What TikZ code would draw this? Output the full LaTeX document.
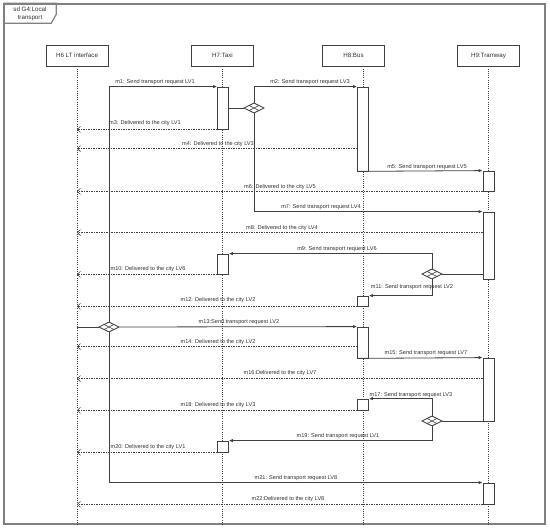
\documentclass[tikz,border=0pt]{standalone}
\usepackage{fontspec}
\setmainfont{Liberation Sans}
\usetikzlibrary{shapes.geometric,arrows.meta,calc}
\definecolor{ln}{HTML}{404040}
\definecolor{fr}{HTML}{808080}
\definecolor{tx}{HTML}{303030}
\begin{document}
\begin{tikzpicture}[x=1pt,y=-1pt,
 head/.style={draw=ln, line width=0.8pt, minimum width=62pt, minimum height=21pt, inner sep=0, font=\fontsize{6.2}{7}\selectfont, text=tx},
 act/.style={draw=ln, line width=0.8pt, fill=white, minimum width=11pt, inner sep=0},
 lifeline/.style={draw=ln, line width=0.6pt, dash pattern=on 1pt off 1.2pt},
 fork/.style={diamond, draw=ln, line width=0.7pt, fill=white, minimum width=20pt, minimum height=10pt, inner sep=0},
 msg/.style={draw=ln, line width=0.8pt, -{Latex[length=4pt,width=3.5pt]}},
 ret/.style={draw=ln, line width=0.6pt, dash pattern=on 1.5pt off 1pt, -{Straight Barb[length=3pt,width=6pt]}},
 lbl/.style={font=\fontsize{5.6}{6.5}\selectfont, text=tx, inner sep=0},
]
\useasboundingbox (0,0) rectangle (550,529);
% frame
\node[draw=fr, line width=1.5pt, minimum width=541pt, minimum height=520pt, inner sep=0] (frame) at (274.5,264) {};
\draw[draw=fr, line width=1.2pt] (frame.north west) -- ++(53,0) -- ++(0,11) -- ++(-5,9) -- ++(-48,0);
\node[lbl, font=\fontsize{6.2}{7.5}\selectfont, align=center] (title) at (30,14) {sd G4:Local\\transport};
% heads
\node[head] (h6) at (77,55.5) {H6 LT interface};
\node[head] (h7) at (222.5,55.5) {H7:Taxi};
\node[head] (h8) at (353.5,55.5) {H8:Bus};
\node[head] (h9) at (488.5,55.5) {H9:Tramway};
\coordinate (l8) at ([xshift=9.5pt]h8.south);
% lifelines
\draw[lifeline] (h6.south) -- (h6.south |- frame.south);
\draw[lifeline] (h7.south) -- (h7.south |- frame.south);
\draw[lifeline] (l8) -- (l8 |- frame.south);
\draw[lifeline] (h9.south) -- (h9.south |- frame.south);
% activations
\node[act, minimum height=42pt] (t1) at (223,108) {};
\node[act, minimum height=84pt] (b1) at (363,129) {};
\node[act, minimum height=20pt] (r1) at (488.5,181) {};
\node[act, minimum height=67pt] (r2) at (488.5,245.5) {};
\node[act, minimum height=20pt] (t2) at (223,264) {};
\node[act, minimum height=10pt] (b2) at (363,301) {};
\node[act, minimum height=31pt] (b3) at (363,342.5) {};
\node[act, minimum height=63pt] (r3) at (488.5,389.5) {};
\node[act, minimum height=11pt] (b4) at (363,404.5) {};
\node[act, minimum height=11pt] (t3) at (223,446.5) {};
\node[act, minimum height=21pt] (r4) at (488.5,493.5) {};
% forks
\node[fork] (d1) at (254,108) {};
\node[fork] (d2) at (432,274) {};
\node[fork] (d3) at (109,327) {};
\node[fork] (d4) at (432,421) {};
% messages
\draw[msg] (d3.north) |- (t1.north west);
\draw[msg] (d3.south) |- (r4.north west);
\draw[draw=ln, line width=0.8pt] (h6.south |- d3.west) -- (d3.west);
\draw[msg] (d3.east) -- (b3.north west);
\draw[draw=ln, line width=0.8pt] (t1.east |- d1.west) -- (d1.west);
\draw[msg] (d1.north) |- (b1.north west);
\draw[msg] (d1.south) |- (r2.north west);
\draw[ret] (t1.south west) -- (t1.south west -| h6.south);
\draw[ret] ([yshift=-62pt]b1.north west) -- ([yshift=-62pt]b1.north west -| h6.south);
\draw[msg] (b1.south west) -- (r1.north west);
\draw[ret] (r1.south west) -- (r1.south west -| h6.south);
\draw[ret] ([yshift=-21pt]r2.north west) -- ([yshift=-21pt]r2.north west -| h6.south);
\draw[draw=ln, line width=0.8pt] (d2.east) -- (d2.east -| r2.west);
\draw[msg] (d2.north) |- (t2.north east);
\draw[ret] (t2.south west) -- (t2.south west -| h6.south);
\draw[msg] (d2.south) |- (b2.north east);
\draw[ret] (b2.south west) -- (b2.south west -| h6.south);
\draw[ret] ([yshift=-20pt]b3.north west) -- ([yshift=-20pt]b3.north west -| h6.south);
\draw[msg] (b3.south west) -- (r3.north west);
\draw[ret] ([yshift=-21pt]r3.north west) -- ([yshift=-21pt]r3.north west -| h6.south);
\draw[draw=ln, line width=0.8pt] (d4.east) -- (d4.east -| r3.west);
\draw[msg] (d4.north) |- (b4.north east);
\draw[ret] (b4.south west) -- (b4.south west -| h6.south);
\draw[msg] (d4.south) |- (t3.north east);
\draw[ret] (t3.south west) -- (t3.south west -| h6.south);
\draw[ret] (r4.south west) -- (r4.south west -| h6.south);
% fork inner lines
\foreach \d in {d1,d2,d3,d4}{
  \node[fork] at (\d) {};
  \draw[draw=ln, line width=0.6pt] ($(\d.north)!0.5!(\d.west)$) -- ($(\d.south)!0.5!(\d.east)$);
  \draw[draw=ln, line width=0.6pt] ($(\d.north)!0.5!(\d.east)$) -- ($(\d.south)!0.5!(\d.west)$);
}
% labels
\node[lbl] (lm1) at (155,82) {m1: Send transport request LV1};
\node[lbl] (lm2) at (310,82) {m2: Send transport request LV3};
\node[lbl] (lm3) at (145,123) {m3: Delivered to the city LV1};
\node[lbl] (lm4) at (218,144) {m4: Delivered to the city LV3};
\node[lbl] (lm5) at (427,167) {m5: Send transport request LV5};
\node[lbl] (lm6) at (280,187) {m6: Delivered to the city LV5};
\node[lbl] (lm7) at (321,207) {m7: Send transport request LV4};
\node[lbl] (lm8) at (282,228) {m8: Delivered to the city LV4};
\node[lbl] (lm9) at (337,249) {m9: Send transport request LV6};
\node[lbl] (lm10) at (148,269) {m10: Delivered to the city LV6};
\node[lbl] (lm11) at (412,287) {m11: Send transport request LV2};
\node[lbl] (lm12) at (218,300) {m12: Delivered to the city LV2};
\node[lbl] (lm13) at (239,322) {m13:Send transport request LV2};
\node[lbl] (lm14) at (218,342) {m14: Delivered to the city LV2};
\node[lbl] (lm15) at (426,353) {m15: Send transport request LV7};
\node[lbl] (lm16) at (280,373) {m16:Delivered to the city LV7};
\node[lbl] (lm17) at (411,395) {m17: Send transport request LV3};
\node[lbl] (lm18) at (218,405) {m18: Delivered to the city LV3};
\node[lbl] (lm19) at (338,436) {m19: Send transport request LV1};
\node[lbl] (lm20) at (148,447) {m20: Delivered to the city LV1};
\node[lbl] (lm21) at (296,478) {m21: Send transport request LV8};
\node[lbl] (lm22) at (288,499) {m22:Delivered to the city LV8};
\end{tikzpicture}
\end{document}
